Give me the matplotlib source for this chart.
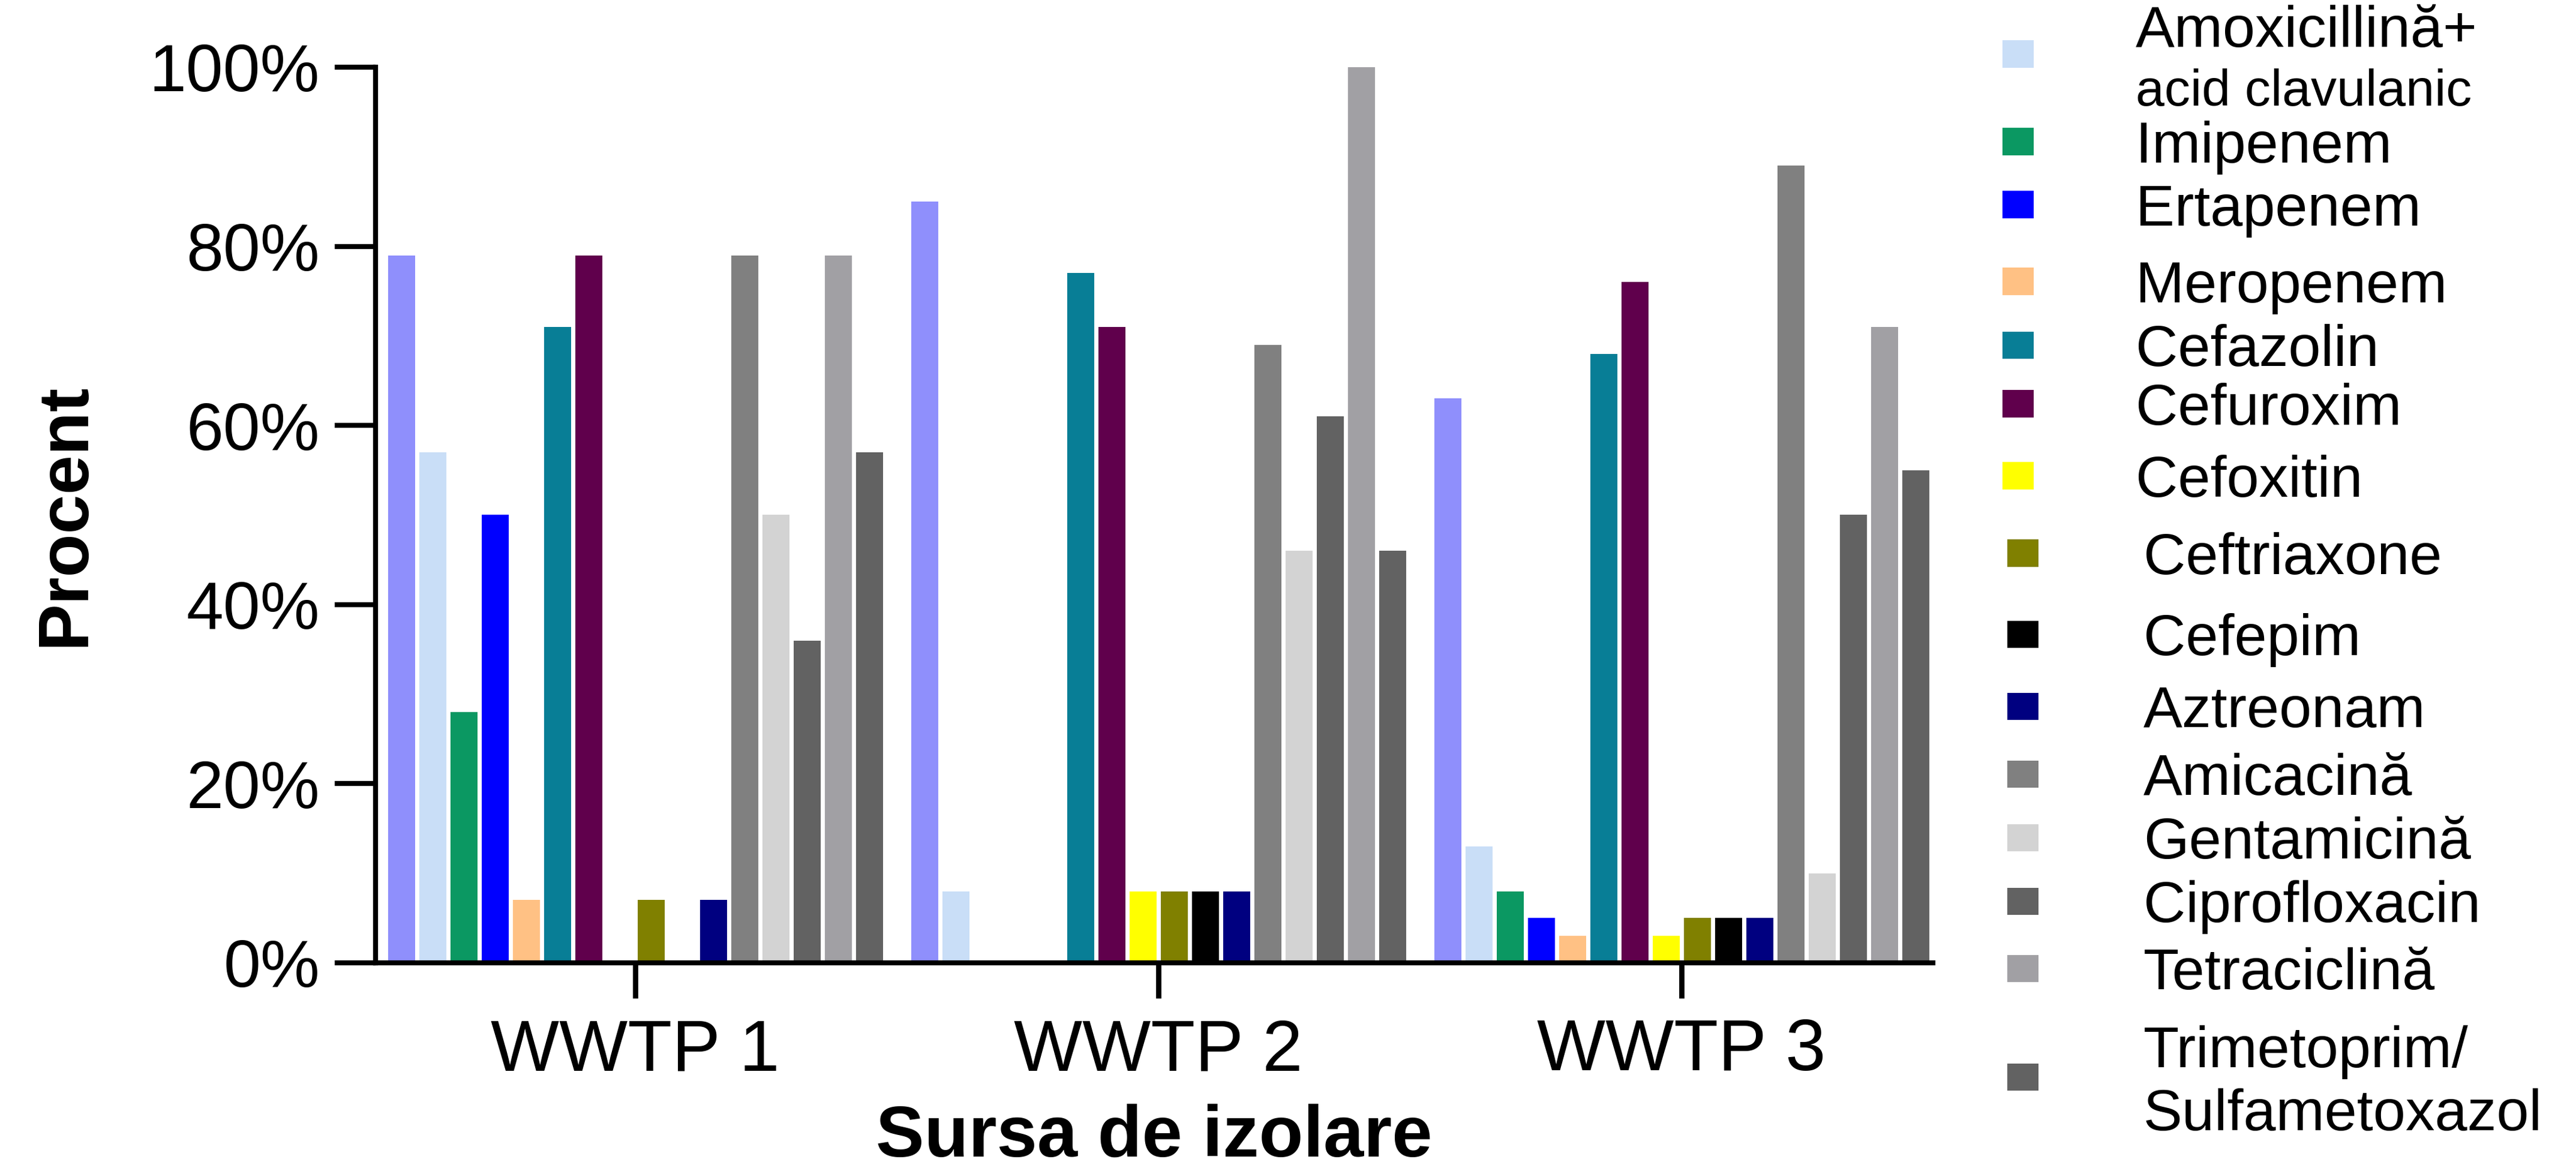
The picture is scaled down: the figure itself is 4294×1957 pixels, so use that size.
import numpy as np
import matplotlib
matplotlib.use('Agg')
import matplotlib.pyplot as plt
from matplotlib.patches import Rectangle

plt.rcParams['font.family'] = ['Liberation Sans', 'DejaVu Sans']

# ---------------- data ----------------
groups = ['WWTP 1', 'WWTP 2', 'WWTP 3']

series_names = ['', 'Amoxicillină+\nacid clavulanic', 'Imipenem', 'Ertapenem',
                'Meropenem', 'Cefazolin', 'Cefuroxim', 'Cefoxitin', 'Ceftriaxone',
                'Cefepim', 'Aztreonam', 'Amicacină', 'Gentamicină', 'Ciprofloxacin',
                'Tetraciclină', 'Trimetoprim/\nSulfametoxazol']

first_series = [79, 85, 63]      # legend entry cut off in the original
amoxiclav = [57, 8, 13]
imipenem = [28, 0, 8]
ertapenem = [50, 0, 5]
meropenem = [7, 0, 3]
cefazolin = [71, 77, 68]
cefuroxim = [79, 71, 76]
cefoxitin = [0, 8, 3]
ceftriaxone = [7, 8, 5]
cefepim = [0, 8, 5]
aztreonam = [7, 8, 5]
amicacina = [79, 69, 89]
gentamicina = [50, 46, 10]
ciprofloxacin = [36, 61, 50]
tetraciclina = [79, 100, 71]
trimetoprim = [57, 46, 55]

series_values = [first_series, amoxiclav, imipenem, ertapenem, meropenem,
                 cefazolin, cefuroxim, cefoxitin, ceftriaxone, cefepim,
                 aztreonam, amicacina, gentamicina, ciprofloxacin,
                 tetraciclina, trimetoprim]

series_colors = ['#8F8FFC', '#C9DEF7', '#0B9862', '#0000FF', '#FFC184',
                 '#087E96', '#60004C', '#FFFF00', '#808000', '#000000',
                 '#000080', '#808080', '#D3D3D3', '#626262', '#A1A0A4',
                 '#626262']

y_ticks = [0, 20, 40, 60, 80, 100]
y_tick_labels = ['0%', '20%', '40%', '60%', '80%', '100%']

# ---------------- layout ----------------
W, H = 4294, 1957
fig = plt.figure(figsize=(W / 100, H / 100), dpi=100)
ax = fig.add_axes([626 / W, 1 - 1605 / H, (3222 - 626) / W, (1605 - 112) / H])

x = np.arange(len(groups))
pitch = 52 / 872
bw = 45 / 872
n = len(series_values)
for i, (vals, col) in enumerate(zip(series_values, series_colors)):
    ax.bar(x + (i - (n - 1) / 2) * pitch, vals, width=bw, color=col,
           linewidth=0, zorder=2)

ax.set_xlim(-0.4966, 2.4805)
ax.set_ylim(0, 100)
ax.set_xticks(x)
ax.set_xticklabels(groups)
ax.set_yticks(y_ticks)
ax.set_yticklabels(y_tick_labels)

for s in ['top', 'right']:
    ax.spines[s].set_visible(False)
for s in ['left', 'bottom']:
    ax.spines[s].set_linewidth(6)
    ax.spines[s].set_capstyle('projecting')
    ax.spines[s].set_zorder(3)

ax.tick_params(axis='y', length=49, width=6, pad=18, labelsize=80,
               direction='out', colors='black')
ax.tick_params(axis='x', length=42.5, width=6.3, pad=24, labelsize=87,
               direction='out', colors='black')

ax.set_ylabel('Procent', fontsize=85, fontweight='bold')
ax.yaxis.set_label_coords((97 - 626) / (3222 - 626), 0.5)
ax.yaxis.label.set_va('center_baseline')

ax.set_xlabel('Sursa de izolare', fontsize=87, fontweight='bold')
ax.xaxis.set_label_coords(0.5, (1605 - 1928) / (1605 - 112))
ax.xaxis.label.set_va('baseline')

# ---------------- legend (manual, irregular spacing as in original) ----------------
legend_marker_y = [90, 236, 341, 469, 575, 673, 793, 922, 1057, 1177,
                   1290, 1396, 1502, 1614, 1795]
legend_line_y = {0: [43, 145], 14: [1744, 1849]}
legend_line_size = {0: [70, 62], 14: [70, 70]}


def fx(px):
    return px / W


def fy(py):
    return 1 - py / H


for k, (name, col) in enumerate(zip(series_names[1:], series_colors[1:])):
    my = legend_marker_y[k]
    mx = 3338 if k < 7 else 3346
    tx = 3560 if k < 7 else 3573
    fig.add_artist(Rectangle((fx(mx), fy(my + 22.5)), 52 / W, 45 / H,
                             transform=fig.transFigure, facecolor=col,
                             edgecolor='none'))
    lines = name.split('\n')
    ys = legend_line_y.get(k, [my])
    sizes = legend_line_size.get(k, [70])
    for line, ly, fs in zip(lines, ys, sizes):
        fig.text(fx(tx), fy(ly), line, fontsize=fs, ha='left',
                 va='center_baseline', color='black')

fig.savefig('out.png', dpi=100, facecolor='white')
